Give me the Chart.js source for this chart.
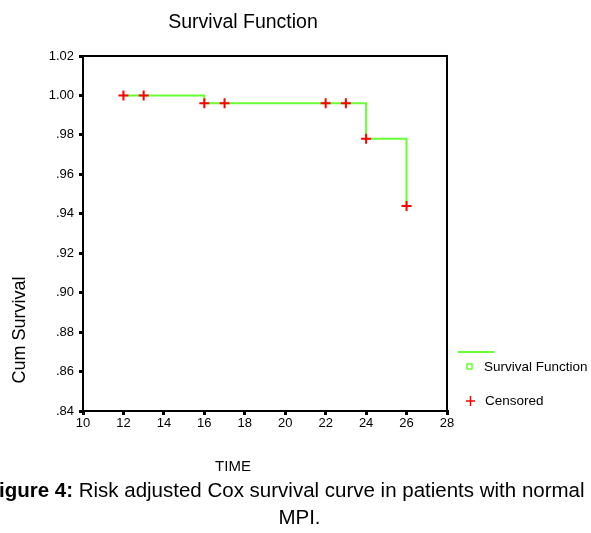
<!DOCTYPE html>
<html><head><meta charset="utf-8">
<script src="https://cdn.jsdelivr.net/npm/chart.js@4"></script>
<style>
html,body{margin:0;padding:0;background:#fff;overflow:hidden}
#wrap{position:relative;width:591px;height:533px;overflow:hidden}
canvas{position:absolute;left:0;top:0}
.cap{position:absolute;left:-200px;width:991px;text-align:center;font-family:"Liberation Sans",Arial,sans-serif;font-size:20.5px;color:#000;white-space:nowrap;line-height:24px}
</style></head><body>
<div id="wrap">
<canvas id="c" width="591" height="533"></canvas>
<div class="cap" style="top:478px;left:-210px"><b>Figure 4:</b> Risk adjusted Cox survival curve in patients with normal</div>
<div class="cap" style="top:505px;left:-196px">MPI.</div>
</div>
<script>
// ---- data ----
const survivalTimes = [12, 16, 24, 26];
const survivalValues = [1.000, 0.996, 0.978, 0.944];
const censoredTimes = [12, 13, 16, 17, 22, 23, 24, 26];
const censoredValues = [1.000, 1.000, 0.996, 0.996, 0.996, 0.996, 0.978, 0.944];
const xTickValues = [10, 12, 14, 16, 18, 20, 22, 24, 26, 28];
const yTickValues = [0.84, 0.86, 0.88, 0.90, 0.92, 0.94, 0.96, 0.98, 1.00, 1.02];
const chartTitle = 'Survival Function';
const xTitle = 'TIME';
const yTitle = 'Cum Survival';
const legendLabels = ['Survival Function', 'Censored'];

const FONT = '"Liberation Sans", Arial, sans-serif';
const GREEN = '#66ff33';
const RED = '#ff0000';

function fmtY(v){
  let s = Number(v).toFixed(2);
  if (s.startsWith('0')) s = s.slice(1);
  return s;
}

const decor = {
  id: 'decor',
  afterDraw(chart){
    const c = chart.ctx, a = chart.chartArea;
    c.save();
    // box
    c.strokeStyle = '#000'; c.lineWidth = 2;
    c.beginPath();
    c.moveTo(a.left, a.top); c.lineTo(a.right, a.top); c.lineTo(a.right, a.bottom);
    c.stroke();
    // title
    c.fillStyle = '#000';
    c.textAlign = 'center'; c.textBaseline = 'middle';
    c.font = '19.5px ' + FONT;
    c.fillText(chartTitle, 243, 23);
    // x title
    c.font = '15px ' + FONT;
    c.fillText(xTitle, 233, 467);
    // y title
    c.save();
    c.translate(20, 330);
    c.rotate(-Math.PI/2);
    c.font = '18px ' + FONT;
    c.fillText(yTitle, 0, 0);
    c.restore();
    // legend
    c.strokeStyle = GREEN; c.lineWidth = 2;
    c.beginPath(); c.moveTo(458, 352); c.lineTo(494, 352); c.stroke();
    c.lineWidth = 1.5;
    c.strokeRect(467, 364, 5, 5);
    c.strokeStyle = RED; c.lineWidth = 1.5;
    c.beginPath(); c.moveTo(466, 401); c.lineTo(475, 401); c.moveTo(470.5, 396); c.lineTo(470.5, 406); c.stroke();
    c.fillStyle = '#000'; c.textAlign = 'left';
    c.font = '13.5px ' + FONT;
    c.fillText(legendLabels[0], 484, 367);
    c.fillText(legendLabels[1], 485, 401);
    c.restore();
  }
};

new Chart(document.getElementById('c'), {
  type: 'scatter',
  data: {
    datasets: [
      {
        label: legendLabels[0],
        data: survivalTimes.map((t,i)=>({x:t, y:survivalValues[i]})),
        showLine: true, stepped: 'before',
        borderColor: GREEN, borderWidth: 2,
        pointRadius: 0, fill: false,
        order: 2
      },
      {
        label: legendLabels[1],
        data: censoredTimes.map((t,i)=>({x:t, y:censoredValues[i]})),
        showLine: false,
        pointStyle: 'cross', pointRadius: 5, pointBorderWidth: 2,
        borderColor: RED, backgroundColor: RED,
        order: 1
      }
    ]
  },
  options: {
    responsive: false, animation: false,
    layout: { padding: { left: 0, top: 56, right: 144, bottom: 0 } },
    plugins: { legend: { display: false }, tooltip: { enabled: false }, title: { display: false } },
    scales: {
      x: {
        type: 'linear', min: xTickValues[0], max: xTickValues[xTickValues.length-1],
        afterBuildTicks(s){ s.ticks = xTickValues.map(v=>({value:v})); },
        ticks: { color:'#000', font:{size:13, family:FONT}, padding:1, maxRotation:0, autoSkip:false },
        grid: { drawOnChartArea:false, tickLength:4, color:'#000', lineWidth:3 },
        border: { color:'#000', width:2 },
        afterFit(s){ s.height = 122; }
      },
      y: {
        type: 'linear', min: yTickValues[0], max: yTickValues[yTickValues.length-1],
        afterBuildTicks(s){ s.ticks = yTickValues.map(v=>({value:v})); },
        ticks: { color:'#000', font:{size:13, family:FONT}, padding:5, autoSkip:false, callback: v => fmtY(v) },
        grid: { drawOnChartArea:false, tickLength:4, color:'#000', lineWidth:3 },
        border: { color:'#000', width:2 },
        afterFit(s){ s.width = 83; }
      }
    }
  },
  plugins: [decor]
});
</script>
</body></html>
